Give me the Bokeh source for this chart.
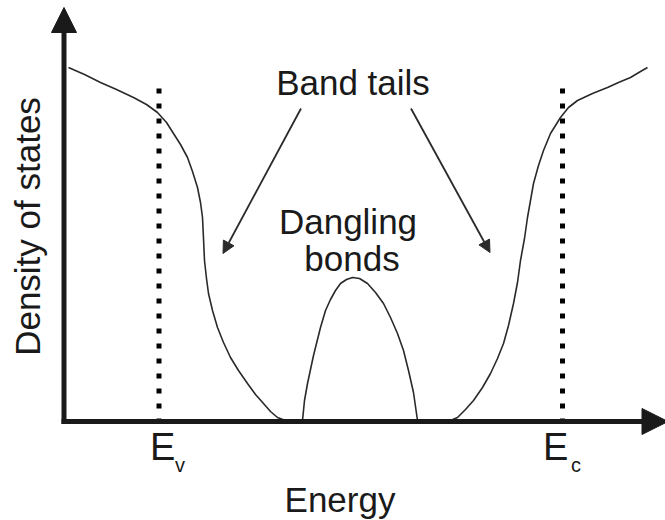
from bokeh.plotting import figure
from bokeh.models import Range1d, Arrow, NormalHead, ColumnDataSource
from bokeh.core.properties import value
from bokeh.embed import file_html
from bokeh.resources import INLINE

# Schematic density of states of an amorphous semiconductor (arbitrary units)
valence_energy = [0.09, 0.41, 0.73, 1.05, 1.39, 1.65, 1.87, 2.05, 2.19, 2.33,
                  2.47, 2.57, 2.67, 2.73, 2.77, 2.79, 2.81, 2.85, 2.89, 2.97,
                  3.07, 3.19, 3.33, 3.49, 3.67, 3.83, 3.99, 4.13, 4.27, 4.43]
valence_dos = [7.08, 6.94, 6.78, 6.64, 6.48, 6.34, 6.18, 5.98, 5.76, 5.54,
               5.28, 5.00, 4.68, 4.38, 4.08, 3.66, 3.22, 2.86, 2.56, 2.22,
               1.88, 1.58, 1.28, 1.02, 0.76, 0.54, 0.36, 0.20, 0.08, 0.02]

dangling_energy = [4.77, 4.81, 4.87, 4.99, 5.13, 5.23, 5.33, 5.43, 5.53, 5.65,
                   5.77, 5.91, 6.07, 6.23, 6.39, 6.53, 6.67, 6.79, 6.89, 6.99, 7.07]
dangling_dos = [0.02, 0.42, 0.76, 1.32, 1.88, 2.22, 2.44, 2.62, 2.76, 2.84,
                2.88, 2.86, 2.76, 2.58, 2.36, 2.08, 1.76, 1.42, 1.02, 0.58, 0.02]

conduction_energy = [7.73, 7.87, 8.03, 8.19, 8.37, 8.53, 8.67, 8.79, 8.89, 8.99,
                     9.07, 9.13, 9.21, 9.27, 9.33, 9.39, 9.49, 9.59, 9.73, 9.93,
                     10.09, 10.27, 10.57, 10.87, 11.09, 11.33, 11.53, 11.67]
conduction_dos = [0.02, 0.08, 0.24, 0.42, 0.68, 0.96, 1.26, 1.56, 1.92, 2.36,
                  2.78, 3.22, 3.66, 4.08, 4.42, 4.76, 5.12, 5.42, 5.76, 6.08,
                  6.28, 6.42, 6.56, 6.68, 6.78, 6.88, 7.00, 7.08]

edge_energy = [1.90, 9.97]
edge_line_top = 6.66
edge_names = ["E", "E"]
edge_subscripts = ["v", "c"]
edge_label_x = [1.72, 9.58]
edge_sub_x = [2.22, 10.14]

X_MIN, X_MAX = -1.27, 12.03
Y_MIN, Y_MAX = -1.98, 8.42

p = figure(width=665, height=520, x_range=Range1d(X_MIN, X_MAX),
           y_range=Range1d(Y_MIN, Y_MAX), output_backend="svg",
           toolbar_location=None, min_border=0)
p.axis.visible = False
p.grid.visible = False
p.outline_line_color = None
p.background_fill_color = "white"
p.border_fill_color = "white"

ink = "#1a1a1a"
sans = value("Liberation Sans")

# band edges
p.segment(x0=edge_energy, y0=[edge_line_top] * 2, x1=edge_energy, y1=[0, 0],
          line_color="black", line_width=5, line_dash="5 10", line_cap="butt")

# density of states curves
for xs, ys in [(valence_energy, valence_dos), (dangling_energy, dangling_dos),
               (conduction_energy, conduction_dos)]:
    p.line(xs, ys, line_color="#2a2a2a", line_width=1.6, line_join="round")

# axes drawn as arrows
p.add_layout(Arrow(x_start=0, y_start=-0.05, x_end=0, y_end=8.28,
                   line_width=5, line_color=ink,
                   end=NormalHead(size=25, fill_color=ink, line_color=ink, line_width=1)))
p.add_layout(Arrow(x_start=-0.05, y_start=0, x_end=12.08, y_end=0,
                   line_width=5, line_color=ink,
                   end=NormalHead(size=26, fill_color=ink, line_color=ink, line_width=1)))

# pointers to the band tails
tail_x0 = [4.74, 6.94]
tail_y0 = [6.26, 6.26]
tail_x1 = [3.18, 8.52]
tail_y1 = [3.36, 3.38]
for a, b, c, d in zip(tail_x0, tail_y0, tail_x1, tail_y1):
    p.add_layout(Arrow(x_start=a, y_start=b, x_end=c, y_end=d,
                       line_width=1.8, line_color="#2a2a2a",
                       end=NormalHead(size=12, fill_color="#2a2a2a",
                                      line_color="#2a2a2a", line_width=1)))

labels = ColumnDataSource(dict(x=[5.78, 5.68, 5.76, 5.52],
                               y=[6.78, 4.00, 3.26, -1.56],
                               t=["Band tails", "Dangling", "bonds", "Energy"]))
p.text(x="x", y="y", text="t", source=labels, text_font=sans,
       text_font_size="35px", text_align="center", text_baseline="alphabetic",
       text_color=ink)

# E_v and E_c labels
p.text(x=edge_label_x, y=[-0.50, -0.50], text=edge_names,
       text_font=sans, text_font_size="38px", text_align="left",
       text_baseline="alphabetic", text_color=ink)
p.text(x=edge_sub_x, y=[-0.86, -0.86], text=edge_subscripts,
       text_font=sans, text_font_size="20px", text_align="left",
       text_baseline="alphabetic", text_color=ink)

p.text(x=[-0.73], y=[3.90], text=["Density of states"],
       text_font=sans, text_font_size="35px",
       text_align="center", text_baseline="alphabetic", angle=1.5708,
       text_color=ink)

open("out.html", "w").write(file_html(p, INLINE))
